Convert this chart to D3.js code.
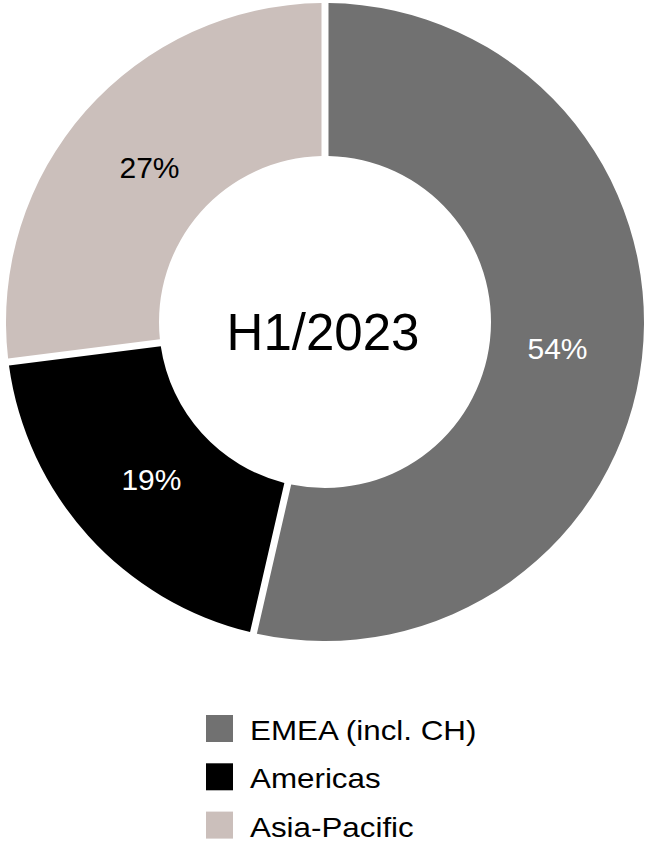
<!DOCTYPE html>
<html>
<head>
<meta charset="utf-8">
<script src="https://cdn.jsdelivr.net/npm/d3@7"></script>
<style>
  html, body { margin: 0; padding: 0; background: #ffffff; }
  svg { display: block; }
  text { font-family: "Liberation Sans", Arial, sans-serif; }
</style>
</head>
<body>
<svg id="chart" width="646" height="842"></svg>
<script>
// Data
const categories = ["EMEA (incl. CH)", "Americas", "Asia-Pacific"];
const values = [53.6, 19.4, 27.0];
const labels = ["54%", "19%", "27%"];
const colors = ["#717171", "#000000", "#cbbfbb"];
const labelColors = ["#ffffff", "#ffffff", "#000000"];
const centerTitle = "H1/2023";

const svg = d3.select("#chart");
const cx = 325, cy = 322;
const outerR = 319, innerR = 166;

const pie = d3.pie().sort(null).value(d => d);
const arcs = pie(values);

const arc = d3.arc()
  .innerRadius(innerR)
  .outerRadius(outerR)
  .padRadius(outerR)
  .padAngle(7 / outerR);

const labelArc = d3.arc().innerRadius(234).outerRadius(234);

const g = svg.append("g").attr("transform", `translate(${cx},${cy})`);

g.selectAll("path.slice")
  .data(arcs)
  .join("path")
  .attr("class", "slice")
  .attr("d", arc)
  .attr("fill", (d, i) => colors[i]);

g.selectAll("text.pct")
  .data(arcs)
  .join("text")
  .attr("class", "pct")
  .attr("transform", d => `translate(${labelArc.centroid(d)})`)
  .attr("text-anchor", "middle")
  .attr("dy", "0.36em")
  .attr("font-size", 30)
  .attr("fill", (d, i) => labelColors[i])
  .text((d, i) => labels[i]);

g.append("text")
  .attr("x", -2)
  .attr("y", 28)
  .attr("text-anchor", "middle")
  .attr("font-size", 51)
  .attr("fill", "#000")
  .text(centerTitle);

// Legend
const legend = svg.append("g").attr("transform", "translate(206,715)");
const rowH = 48.3;
const rows = legend.selectAll("g.row")
  .data(categories)
  .join("g")
  .attr("class", "row")
  .attr("transform", (d, i) => `translate(0,${i * rowH})`);

rows.append("rect")
  .attr("width", 27)
  .attr("height", 27)
  .attr("fill", (d, i) => colors[i]);

rows.append("text")
  .attr("transform", "translate(44,25) scale(1.12,1)")
  .attr("font-size", 28)
  .attr("fill", "#000")
  .text(d => d);
</script>
</body>
</html>
